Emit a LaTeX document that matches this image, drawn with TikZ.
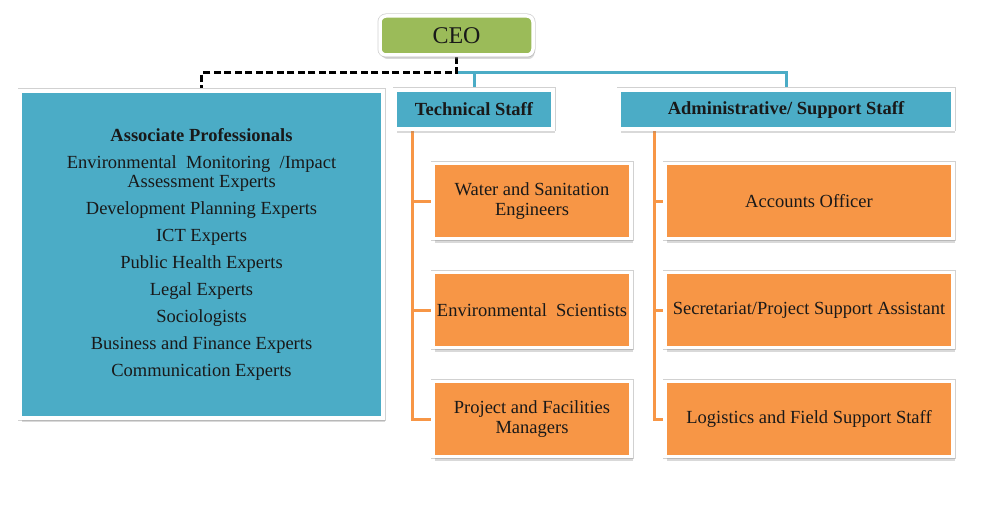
\documentclass[tikz,border=0pt]{standalone}
\usepackage{fontspec}
\setmainfont{Liberation Serif}
\usetikzlibrary{shadows,backgrounds}
\definecolor{ceogreen}{HTML}{9BBB59}
\definecolor{staffblue}{HTML}{4BACC6}
\definecolor{unitorange}{HTML}{F79646}
\tikzset{
  card/.style={draw=white, line width=3.5pt, inner sep=0pt, align=center, text=black!90,
    preaction={draw=black!18, line width=5pt},
    drop shadow={shadow xshift=1.5pt, shadow yshift=-4pt, opacity=0.3}},
  head/.style={card, fill=staffblue, minimum height=39pt, font=\fontsize{18.5}{20}\selectfont\bfseries},
  unitl/.style={card, fill=unitorange, minimum width=198pt, minimum height=75pt},
  unitr/.style={card, fill=unitorange, minimum width=288pt, minimum height=75pt},
  bluelink/.style={staffblue, line width=3pt},
  orangelink/.style={unitorange, line width=3pt}
}
\begin{document}
\begin{tikzpicture}[x=1pt, y=-1pt, font=\fontsize{18.5}{19.5}\selectfont]
  \useasboundingbox (0,0) rectangle (1001,532);
  \node[card, fill=ceogreen, rounded corners=6pt, minimum width=153pt, minimum height=39pt, font=\fontsize{24}{26}\selectfont] (ceo) at (456.5,35.5) {CEO};
  \node[card, fill=staffblue, minimum width=363pt, minimum height=327pt] (ap) at (201.5,254.5)
    {\textbf{Associate Professionals}\\[7.5pt]
     Environmental\ \ Monitoring\ \ /Impact\\ Assessment Experts\\[7.5pt]
     Development\ Planning\ Experts\\[7.5pt]
     ICT Experts\\[7.5pt]
     Public Health\ Experts\\[7.5pt]
     Legal Experts\\[7.5pt]
     Sociologists\\[7.5pt]
     Business and Finance Experts\\[7.5pt]
     Communication\ Experts};
  \node[head, minimum width=158pt] (tech) at (474,109.5) {Technical Staff};
  \node[head, minimum width=334pt] (adm) at (786,109.5) {Administrative/\ Support Staff};
  \node[unitl] (wse) at (532,201) {Water and Sanitation\\ Engineers};
  \node[unitl] (esc) at (532,310) {Environmental\ \ Scientists};
  \node[unitl] (pfm) at (532,419) {Project and Facilities\\ Managers};
  \node[unitr] (aco) at (809,201) {Accounts Officer};
  \node[unitr] (spa) at (809,310) {Secretariat/Project\ Support Assistant};
  \node[unitr] (lfs) at (809,419) {Logistics and Field\ Support Staff};
  \coordinate (bus) at (ceo.south |- 0,73);
  \coordinate (tl) at (412,129);
  \coordinate (tr) at (654,129);
  \begin{scope}[on background layer]
    \draw[bluelink] (bus) -| (tech.north);
    \draw[bluelink] (bus) -| (adm.north);
    \draw[line width=3pt, dash pattern=on 7pt off 3.5pt] (ceo.south) -- (bus) -| (ap.north);
    \foreach \u in {wse,esc,pfm} \draw[orangelink] (tl) |- (\u.west);
    \foreach \u in {aco,spa,lfs} \draw[orangelink] (tr) |- (\u.west);
  \end{scope}
\end{tikzpicture}
\end{document}
